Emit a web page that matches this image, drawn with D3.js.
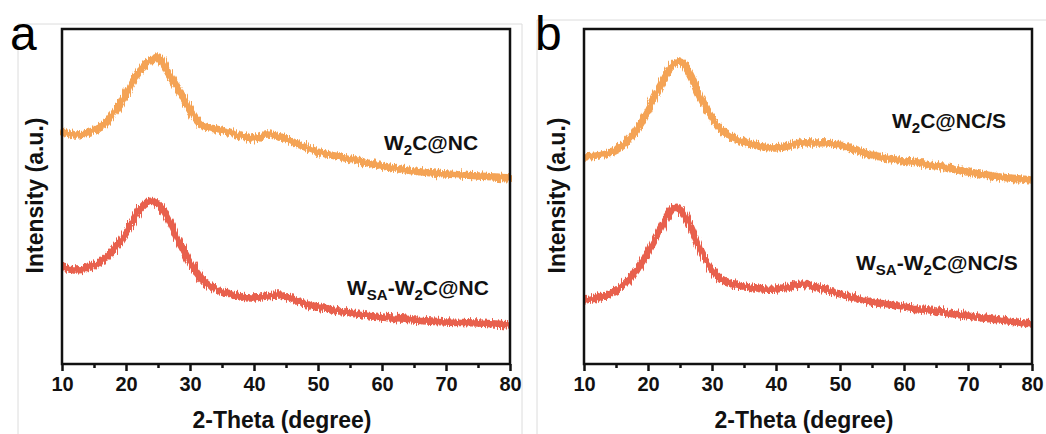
<!DOCTYPE html>
<html>
<head>
<meta charset="utf-8">
<script src="https://cdn.jsdelivr.net/npm/d3@7"></script>
<style>
  body { margin: 0; background: #fff; }
  text { font-family: Arial, "Liberation Sans", sans-serif; }
</style>
</head>
<body>
<svg id="chart" width="1046" height="434"></svg>
<script>
// 2-theta grid shared by all patterns
let theta = [10,12,14,16,17,18,19,20,21,22,23,24,25,26,27,28,29,30,31,32,34,36,38,40,42,44,46,48,50,55,60,65,70,75,80];

// intensities (a.u., offset stacked as in the figure)
let w2cNC     = [233,229,231,237,242,250,259,270,282,292,300,304,307,298,287,276,266,254,244,238,235,232,228,225,230,228,222,217,212,205,198,193,190,188,186];
let wsaW2cNC  = [97,94,96,102,107,114,122,132,142,153,160,163,160,152,140,126,114,102,92,84,75,71,67,66,68,69,65,60,57,51,47,44,42,41,39];
let w2cNCS    = [207,208,211,218,224,232,242,254,267,279,291,300,302,296,284,269,256,246,237,231,224,220,217,216,218,221,221,221,219,209,203,198,192,187,184];
let wsaW2cNCS = [64,66,70,78,84,92,101,112,124,136,148,156,156,146,132,117,104,94,87,83,79,77,75,75,77,80,77,74,70,62,57,53,48,44,40];

let xTicks = [10,20,30,40,50,60,70,80];
let orange = '#F4A355';
let red = '#E8604D';

let svg = d3.select('#chart');

// faint sub-figure borders
let frames = [
  [[18,434],[18,24],[522,24],[522,434]],
  [[537,434],[537,20],[1046,20]]
];
frames.forEach(f => {
  svg.append('path')
    .attr('d', d3.line()(f))
    .attr('fill', 'none')
    .attr('stroke', '#dcdcdc')
    .attr('stroke-width', 1);
});

// jagged look of raw XRD counts
let defs = svg.append('defs');
let flt = defs.append('filter')
    .attr('id', 'noise')
    .attr('x', '-5%').attr('y', '-20%')
    .attr('width', '110%').attr('height', '140%');
flt.append('feTurbulence')
    .attr('type', 'fractalNoise')
    .attr('baseFrequency', '0.8 0.04')
    .attr('numOctaves', 2)
    .attr('seed', 3)
    .attr('result', 'turb');
flt.append('feDisplacementMap')
    .attr('in', 'SourceGraphic')
    .attr('in2', 'turb')
    .attr('scale', 8)
    .attr('xChannelSelector', 'R')
    .attr('yChannelSelector', 'G');

function panel(left, letter, letterX, series) {
  let top = 29, bottom = 364, right = left + 448;

  let x = d3.scaleLinear().domain([10, 80]).range([left, right]);
  let y = d3.scaleLinear().domain([0, 335]).range([bottom, top]);

  let g = svg.append('g');

  let line = d3.line()
      .x((d, i) => x(theta[i]))
      .y(d => y(d))
      .curve(d3.curveCatmullRom);

  series.forEach(s => {
    g.append('path')
      .datum(s.values)
      .attr('d', line)
      .attr('fill', 'none')
      .attr('stroke', s.color)
      .attr('stroke-width', 7.5)
      .attr('stroke-linejoin', 'round')
      .attr('filter', 'url(#noise)');

    let t = g.append('text')
      .attr('x', s.lx)
      .attr('y', s.ly)
      .attr('font-size', 21)
      .attr('font-weight', 'bold')
      .attr('fill', '#111');
    s.label.forEach(p => {
      let ts = t.append('tspan').text(p.t);
      if (p.sub) ts.attr('font-size', 15).attr('dy', 5);
      else if (p.after) ts.attr('dy', -5);
    });
  });

  // frame
  g.append('rect')
    .attr('x', left).attr('y', top)
    .attr('width', right - left).attr('height', bottom - top)
    .attr('fill', 'none')
    .attr('stroke', '#111')
    .attr('stroke-width', 2.5);

  // x axis
  let ax = g.append('g')
      .attr('transform', `translate(0,${bottom})`)
      .call(d3.axisBottom(x).tickValues(xTicks).tickSize(7).tickPadding(6).tickFormat(d3.format('d')));
  ax.select('.domain').remove();
  ax.selectAll('line').attr('stroke', '#111').attr('stroke-width', 2.5);
  ax.selectAll('text')
    .attr('font-size', 20)
    .attr('font-weight', 'bold')
    .attr('fill', '#111')
    .attr('font-family', 'Arial, "Liberation Sans", sans-serif');

  let minor = g.append('g')
      .attr('transform', `translate(0,${bottom})`)
      .call(d3.axisBottom(x).tickValues(d3.range(15, 80, 10)).tickSize(4).tickFormat(''));
  minor.select('.domain').remove();
  minor.selectAll('line').attr('stroke', '#111').attr('stroke-width', 2.5);

  g.append('text')
    .attr('x', (left + right) / 2 - 4)
    .attr('y', 428)
    .attr('text-anchor', 'middle')
    .attr('font-size', 23)
    .attr('font-weight', 'bold')
    .attr('fill', '#111')
    .text('2-Theta (degree)');

  g.append('text')
    .attr('transform', `translate(${left - 19},${(top + bottom) / 2 - 1}) rotate(-90)`)
    .attr('text-anchor', 'middle')
    .attr('font-size', 23)
    .attr('font-weight', 'bold')
    .attr('fill', '#111')
    .text('Intensity (a.u.)');

  svg.append('text')
    .attr('x', letterX)
    .attr('y', 50)
    .attr('font-size', 48)
    .attr('fill', '#000')
    .text(letter);
}

panel(62, 'a', 10, [
  { values: w2cNC, color: orange, lx: 384, ly: 150,
    label: [{t: 'W'}, {t: '2', sub: true}, {t: 'C@NC', after: true}] },
  { values: wsaW2cNC, color: red, lx: 347, ly: 295,
    label: [{t: 'W'}, {t: 'SA', sub: true}, {t: '-W', after: true}, {t: '2', sub: true}, {t: 'C@NC', after: true}] }
]);

panel(584, 'b', 535, [
  { values: w2cNCS, color: orange, lx: 892, ly: 128,
    label: [{t: 'W'}, {t: '2', sub: true}, {t: 'C@NC/S', after: true}] },
  { values: wsaW2cNCS, color: red, lx: 856, ly: 270,
    label: [{t: 'W'}, {t: 'SA', sub: true}, {t: '-W', after: true}, {t: '2', sub: true}, {t: 'C@NC/S', after: true}] }
]);
</script>
</body>
</html>
